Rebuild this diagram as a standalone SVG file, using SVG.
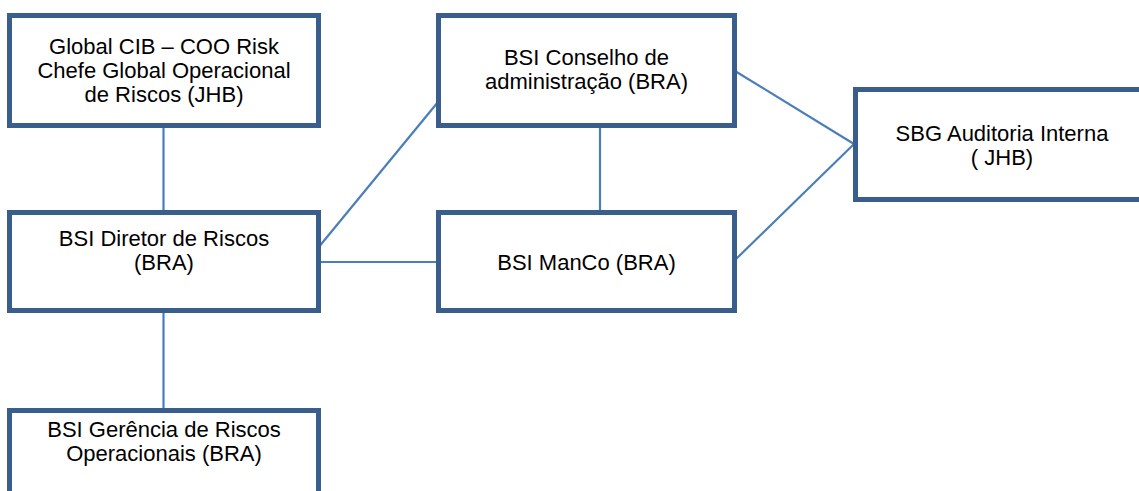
<svg xmlns="http://www.w3.org/2000/svg" width="1139" height="491" viewBox="0 0 1139 491">
<style>
.box{fill:#ffffff;stroke:#3A5E8C;stroke-width:5}
.lbl{font-family:"Liberation Sans",Arial,sans-serif;font-size:22px;fill:#000000;text-anchor:middle}
.con{stroke:#4A7EBB;stroke-width:2.2;fill:none}
</style>
<rect width="1139" height="491" fill="#ffffff"/>
<g id="connectors">
<line class="con" x1="163.5" y1="128" x2="163.5" y2="210"/>
<line class="con" x1="163.5" y1="313" x2="163.5" y2="408"/>
<line class="con" x1="318" y1="248" x2="438" y2="102"/>
<line class="con" x1="321" y1="262" x2="437" y2="262"/>
<line class="con" x1="600" y1="128" x2="600" y2="210"/>
<line class="con" x1="735" y1="71" x2="854" y2="144"/>
<line class="con" x1="735" y1="260" x2="854" y2="144"/>
</g>
<g id="node-global-cib">
<rect class="box" x="9.5" y="15.5" width="309" height="110"/>
<text class="lbl" x="164" y="54">Global CIB – COO Risk</text>
<text class="lbl" x="164" y="78">Chefe Global Operacional</text>
<text class="lbl" x="164" y="102">de Riscos (JHB)</text>
</g>
<g id="node-diretor">
<rect class="box" x="9.5" y="212.5" width="309" height="98"/>
<text class="lbl" x="164" y="246">BSI Diretor de Riscos</text>
<text class="lbl" x="164" y="270">(BRA)</text>
</g>
<g id="node-gerencia">
<rect class="box" x="9.5" y="410.5" width="309" height="100"/>
<text class="lbl" x="164" y="437">BSI Gerência de Riscos</text>
<text class="lbl" x="164" y="461">Operacionais (BRA)</text>
</g>
<g id="node-conselho">
<rect class="box" x="438.5" y="15.5" width="296" height="110"/>
<text class="lbl" x="586.5" y="65">BSI Conselho de</text>
<text class="lbl" x="586.5" y="89">administração (BRA)</text>
</g>
<g id="node-manco">
<rect class="box" x="438.5" y="212.5" width="296" height="98"/>
<text class="lbl" x="586.5" y="270">BSI ManCo (BRA)</text>
</g>
<g id="node-sbg">
<rect class="box" x="855.5" y="89.5" width="293" height="110"/>
<text class="lbl" x="1002" y="141">SBG Auditoria Interna</text>
<text class="lbl" x="1002" y="165">( JHB)</text>
</g>
</svg>
